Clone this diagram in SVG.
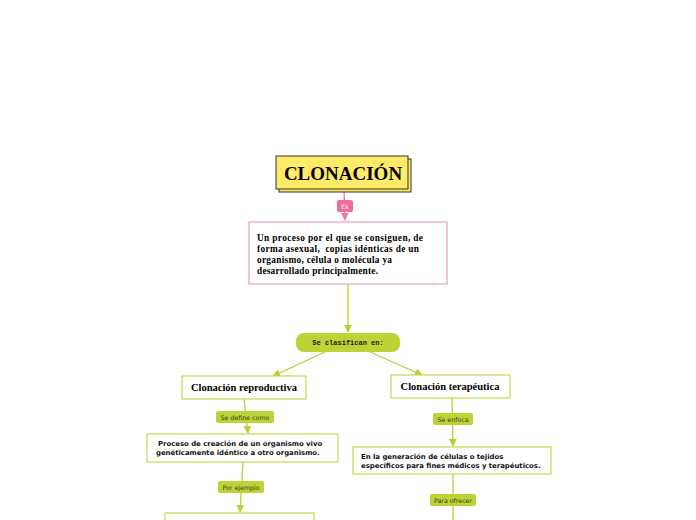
<svg xmlns="http://www.w3.org/2000/svg" width="696" height="520" viewBox="0 0 696 520">
<defs>
<style>
.g{stroke:#b9cf2e;stroke-width:1.3;fill:none}
.p{stroke:#ec7ca3;stroke-width:1.3;fill:none}
.gl{fill:#bdd235}
.lt{font-family:"DejaVu Sans",sans-serif;font-size:6.3px;fill:#3a3a1a;text-anchor:middle}
.box{fill:#fff;stroke:#c4da4c;stroke-width:1.2}
.serif{font-family:"Liberation Serif","DejaVu Serif",serif;font-weight:bold;fill:#000}
.sans{font-family:"DejaVu Sans",sans-serif;font-weight:bold;font-size:6.9px;fill:#111}
</style>
<marker id="ag" viewBox="0 0 10 10" refX="9" refY="5" markerWidth="6" markerHeight="6" orient="auto"><path d="M0,0L10,5L0,10z" fill="#b9cf2e"/></marker>
<marker id="ap" viewBox="0 0 10 10" refX="9" refY="5" markerWidth="6" markerHeight="6" orient="auto"><path d="M0,0L10,5L0,10z" fill="#ec7ca3"/></marker>
</defs>
<rect width="696" height="520" fill="#fff"/>
<g id="connectors">
<path class="p" d="M344,190L345,220" marker-end="url(#ap)"/>
<path class="g" d="M348,284L348,332" marker-end="url(#ag)"/>
<path class="g" d="M325,352L273,376" marker-end="url(#ag)"/>
<path class="g" d="M370,352L422,375" marker-end="url(#ag)"/>
<path class="g" d="M244,399L248,433" marker-end="url(#ag)"/>
<path class="g" d="M243,462L240,512" marker-end="url(#ag)"/>
<path class="g" d="M452,398L453,446" marker-end="url(#ag)"/>
<path class="g" d="M453,474L453,520"/>
<g id="lbl-es"><rect x="337" y="200" width="16" height="12" rx="2" fill="#f06c9b"/><text x="345" y="208.5" class="lt" style="fill:#fff">Es</text></g>
<g id="lbl-define"><rect x="216" y="411" width="58" height="12" rx="2" class="gl"/><text x="245" y="419.5" class="lt">Se define como</text></g>
<g id="lbl-ejemplo"><rect x="218" y="481" width="46" height="12" rx="2" class="gl"/><text x="241" y="489.5" class="lt">Por ejemplo</text></g>
<g id="lbl-enfoca"><rect x="433" y="413" width="40" height="12" rx="2" class="gl"/><text x="453" y="421.5" class="lt">Se enfoca</text></g>
<g id="lbl-ofrecer"><rect x="430" y="494" width="46" height="12" rx="2" class="gl"/><text x="453" y="502.5" class="lt">Para ofrecer</text></g>
</g>
<g id="clonacion">
<rect x="279" y="159" width="132" height="33" fill="#ffeb66" stroke="#333" stroke-width="1"/>
<rect x="276" y="156" width="132" height="33" fill="#ffeb66" stroke="#333" stroke-width="1"/>
<text x="343" y="180" class="serif" font-size="19" text-anchor="middle">CLONACIÓN</text>
</g>
<g id="definicion">
<rect x="249" y="222" width="198" height="62" fill="#fff" stroke="#f0a0bc" stroke-width="1.2"/>
<text class="serif" font-size="9.3" style="white-space:pre"><tspan x="257" y="241" textLength="166" lengthAdjust="spacing">Un proceso por el que se consiguen, de</tspan><tspan x="257" y="252" textLength="162" lengthAdjust="spacing">forma asexual,  copias idénticas de un</tspan><tspan x="257" y="263" textLength="135" lengthAdjust="spacing">organismo, célula o molécula ya</tspan><tspan x="257" y="274" textLength="121" lengthAdjust="spacing">desarrollado principalmente.</tspan></text>
</g>
<g id="clasifican">
<rect x="296" y="333" width="104" height="19" rx="8" fill="#bdd235"/>
<text x="348" y="345" font-family="Liberation Mono,DejaVu Sans Mono,monospace" font-weight="bold" font-size="7" text-anchor="middle" fill="#222">Se clasifican en:</text>
</g>
<g id="reproductiva">
<rect x="182" y="376" width="124" height="23" class="box"/>
<text x="244" y="391" class="serif" font-size="10.5" text-anchor="middle">Clonación reproductiva</text>
</g>
<g id="terapeutica">
<rect x="391" y="375" width="119" height="23" class="box"/>
<text x="450" y="390" class="serif" font-size="10.5" text-anchor="middle">Clonación terapéutica</text>
</g>
<g id="proceso">
<rect x="147" y="434" width="191" height="28" class="box"/>
<text class="sans"><tspan x="158" y="446">Proceso de creación de un organismo vivo</tspan><tspan x="156" y="455">genéticamente idéntico a otro organismo.</tspan></text>
</g>
<g id="generacion">
<rect x="353" y="447" width="198" height="27" class="box"/>
<text class="sans"><tspan x="361" y="459">En la generación de células o tejidos</tspan><tspan x="361" y="468">específicos para fines médicos y terapéuticos.</tspan></text>
</g>
<g id="ejemplo">
<rect x="165" y="513" width="149" height="20" class="box"/>
</g>
</svg>
